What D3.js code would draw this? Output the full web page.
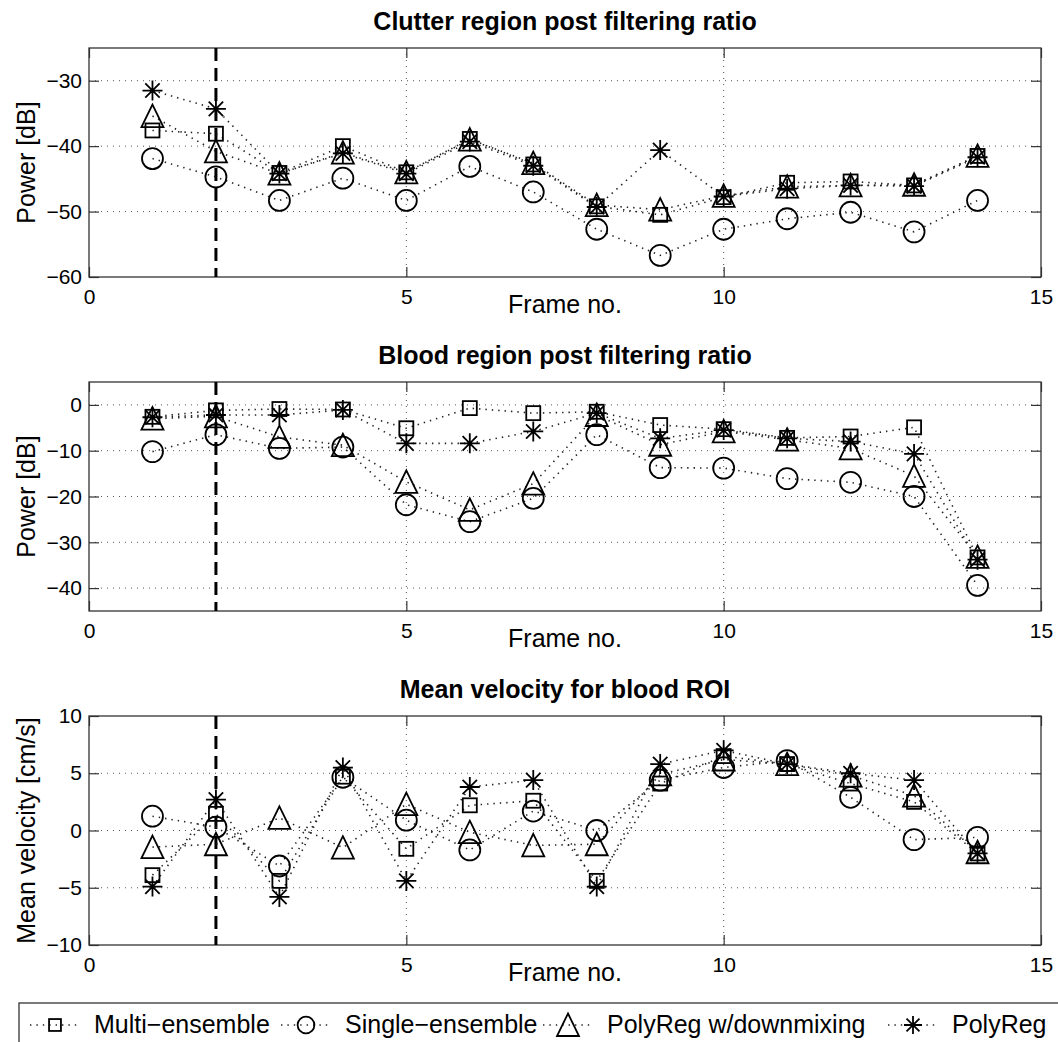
<!DOCTYPE html>
<html><head><meta charset="utf-8">
<script src="https://cdn.jsdelivr.net/npm/d3@7"></script>
<style>body{margin:0;background:#fff}svg{display:block;font-family:"Liberation Sans",Arial,sans-serif}</style>
</head><body><svg id="c" width="1058" height="1042"></svg>
<script>
const frames = [1,2,3,4,5,6,7,8,9,10,11,12,13,14];
const seriesNames = ["Multi\u2212ensemble","Single\u2212ensemble","PolyReg w/downmixing","PolyReg"];
const seriesMarkers = ["square","circle","triangle","star"];

const clutterMulti    = [-37.6,-38.1,-44.1,-40.0,-44.0,-38.9,-42.8,-49.2,-50.5,-47.8,-45.6,-45.4,-46.0,-41.5];
const clutterSingle   = [-41.9,-44.7,-48.3,-44.9,-48.3,-43.1,-47.0,-52.7,-56.7,-52.7,-51.1,-50.1,-53.1,-48.3];
const clutterPolyDown = [-35.4,-40.8,-44.2,-41.0,-44.0,-39.0,-42.6,-49.0,-49.7,-47.6,-46.2,-46.0,-45.9,-41.5];
const clutterPoly     = [-31.5,-34.3,-44.2,-41.1,-44.2,-39.3,-43.0,-49.3,-40.6,-47.7,-46.5,-46.0,-46.1,-41.7];

const bloodMulti    = [-2.6,-1.2,-0.9,-1.0,-5.1,-0.7,-1.8,-1.5,-4.4,-5.3,-7.2,-6.9,-4.9,-33.3];
const bloodSingle   = [-10.2,-6.5,-9.5,-9.2,-21.8,-25.5,-20.4,-6.5,-13.7,-13.8,-16.1,-16.9,-20.0,-39.4];
const bloodPolyDown = [-3.0,-2.5,-7.0,-8.8,-16.8,-22.9,-17.2,-2.2,-8.7,-5.8,-7.6,-9.5,-15.5,-33.2];
const bloodPoly     = [-2.7,-2.2,-2.2,-1.1,-8.4,-8.4,-5.8,-1.8,-7.3,-5.5,-7.3,-8.0,-10.7,-33.8];

const velMulti    = [-3.9,1.45,-4.4,4.7,-1.6,2.2,2.6,-4.4,4.1,6.5,5.8,4.1,2.5,-2.0];
const velSingle   = [1.25,0.3,-3.1,4.65,0.9,-1.7,1.7,0.0,4.4,5.5,6.1,2.9,-0.8,-0.6];
const velPolyDown = [-1.45,-1.2,1.1,-1.5,2.3,-0.15,-1.3,-1.2,4.9,6.2,5.8,4.8,3.05,-1.9];
const velPoly     = [-4.9,2.7,-5.8,5.5,-4.4,3.8,4.4,-4.9,5.8,7.0,5.8,5.0,4.4,-2.0];

const xTicks = [0,5,10,15];
const markerFrame = 2;

const panels = [
  {title:"Clutter region post filtering ratio", ylabel:"Power [dB]", domain:[-60,-25], ticks:[-60,-50,-40,-30],
   series:[clutterMulti,clutterSingle,clutterPolyDown,clutterPoly]},
  {title:"Blood region post filtering ratio", ylabel:"Power [dB]", domain:[-45,5], ticks:[-40,-30,-20,-10,0],
   series:[bloodMulti,bloodSingle,bloodPolyDown,bloodPoly]},
  {title:"Mean velocity for blood ROI", ylabel:"Mean velocity [cm/s]", domain:[-10,10], ticks:[-10,-5,0,5,10],
   series:[velMulti,velSingle,velPolyDown,velPoly]}
];

const svg = d3.select("#c");
const xL = 89, xR = 1041, ph = 229, tops = [48,382,716];
const x = d3.scaleLinear().domain([0,15]).range([xL,xR]);
const fmt = d3.format("");

function drawMarker(g, type, cx, cy, sc){
  sc = sc || 1;
  let el;
  if(type==="square"){
    const h=7*sc;
    el = g.append("rect").attr("x",cx-h).attr("y",cy-h).attr("width",2*h).attr("height",2*h);
  } else if(type==="circle"){
    el = g.append("circle").attr("cx",cx).attr("cy",cy).attr("r",10.5*sc);
  } else if(type==="triangle"){
    const h=11*sc;
    el = g.append("path").attr("d",`M${cx},${cy-h-0.5}L${cx+h},${cy+h}L${cx-h},${cy+h}Z`);
  } else {
    const r=10*sc, d=7.2*sc;
    el = g.append("path").attr("d",`M${cx},${cy-r}V${cy+r}M${cx-r},${cy}H${cx+r}M${cx-d},${cy-d}L${cx+d},${cy+d}M${cx-d},${cy+d}L${cx+d},${cy-d}`);
  }
  el.attr("fill","none").attr("stroke","#000").attr("stroke-width",1.8);
}

panels.forEach((p,i)=>{
  const top = tops[i], bot = top+ph;
  const y = d3.scaleLinear().domain(p.domain).range([bot,top]);
  const g = svg.append("g");
  g.selectAll(".gx").data(xTicks.filter(t=>t>0&&t<15)).enter().append("line")
    .attr("x1",d=>x(d)).attr("x2",d=>x(d)).attr("y1",top).attr("y2",bot)
    .attr("stroke","#555").attr("stroke-width",1).attr("stroke-dasharray","1,5");
  g.selectAll(".gy").data(p.ticks.filter(t=>t>p.domain[0]&&t<p.domain[1])).enter().append("line")
    .attr("x1",xL).attr("x2",xR).attr("y1",d=>y(d)).attr("y2",d=>y(d))
    .attr("stroke","#555").attr("stroke-width",1).attr("stroke-dasharray","1,5");
  const ax = d3.axisBottom(x).tickValues(xTicks).tickSize(-10).tickPadding(12).tickFormat(fmt);
  const axT = d3.axisTop(x).tickValues(xTicks).tickSize(-10).tickFormat("");
  const ay = d3.axisLeft(y).tickValues(p.ticks).tickSize(-10).tickPadding(7).tickFormat(d3.format(""));
  const ayR = d3.axisRight(y).tickValues(p.ticks).tickSize(-10).tickFormat("");
  [ [ax,`translate(0,${bot})`], [axT,`translate(0,${top})`], [ay,`translate(${xL},0)`], [ayR,`translate(${xR},0)`] ].forEach(([a,t])=>{
    const ag = g.append("g").attr("transform",t).call(a);
    ag.select(".domain").remove();
    ag.selectAll("line").attr("stroke","#333").attr("stroke-width",1.2);
    ag.selectAll("text").attr("fill","#000").style("font-size","21px").style("font-family","Liberation Sans, Arial, sans-serif");
  });
  g.append("rect").attr("x",xL).attr("y",top).attr("width",xR-xL).attr("height",ph)
    .attr("fill","none").attr("stroke","#333").attr("stroke-width",1.3);
  g.append("line").attr("x1",x(markerFrame)).attr("x2",x(markerFrame)).attr("y1",top).attr("y2",bot)
    .attr("stroke","#000").attr("stroke-width",3).attr("stroke-dasharray","13,7");
  const line = d3.line().x((d,j)=>x(frames[j])).y(d=>y(d));
  p.series.forEach((vals)=>{
    g.append("path").datum(vals).attr("d",line).attr("fill","none")
      .attr("stroke","#222").attr("stroke-width",1.6).attr("stroke-dasharray","1.4,5");
  });
  p.series.forEach((vals,k)=>{
    vals.forEach((v,j)=>drawMarker(g, seriesMarkers[k], x(frames[j]), y(v)));
  });
  svg.append("text").attr("x",(xL+xR)/2).attr("y",top-18).attr("text-anchor","middle")
    .style("font-size","25px").style("font-weight","bold").text(p.title);
  svg.append("text").attr("x",(xL+xR)/2).attr("y",bot+36).attr("text-anchor","middle")
    .style("font-size","25px").text("Frame no.");
  svg.append("text").attr("transform",`translate(35,${(top+bot)/2}) rotate(-90)`).attr("text-anchor","middle")
    .style("font-size","25px").text(p.ylabel);
});

const leg = svg.append("g");
leg.append("rect").attr("x",19).attr("y",1003).attr("width",1100).attr("height",70)
  .attr("fill","#fff").attr("stroke","#333").attr("stroke-width",1.3);
const legX = [30, 281, 543, 888];
const legScale = [0.85, 0.8, 1, 0.9];
seriesNames.forEach((name,k)=>{
  const x0 = legX[k], cy = 1025;
  leg.append("line").attr("x1",x0).attr("x2",x0+50).attr("y1",cy).attr("y2",cy)
    .attr("stroke","#222").attr("stroke-width",1.6).attr("stroke-dasharray","1.4,5");
  drawMarker(leg, seriesMarkers[k], x0+25, cy, legScale[k]);
  leg.append("text").attr("x",x0+64).attr("y",1033).style("font-size","25px").text(name);
});
</script></body></html>
